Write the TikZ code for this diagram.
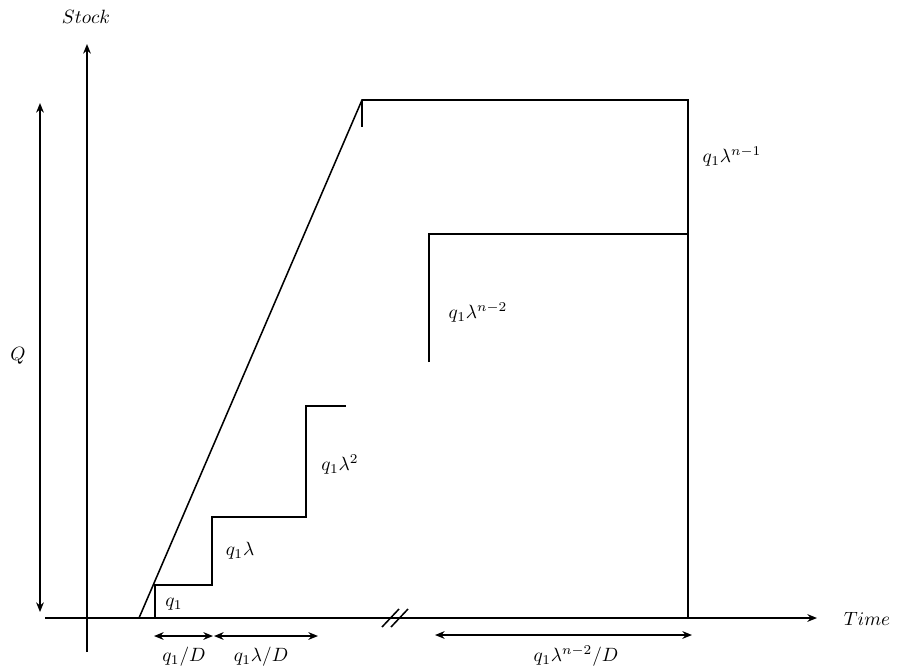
\documentclass[tikz,border=0pt]{standalone}
\usetikzlibrary{arrows.meta}

\begin{document}
\begin{tikzpicture}[
    x=0.52pt, y=-0.52pt,
    >={Stealth[length=5pt,width=4pt]},
    axis/.style={thick, ->},
    stock/.style={thick},
    dim/.style={thick, <->},
    lbl/.style={inner sep=1pt},
]
\useasboundingbox (0,0) rectangle (897,671);

% Axes
\coordinate (tstart) at (45,618);
\coordinate (tend) at (817,618);
\coordinate (sbot) at (87,652);
\coordinate (stop) at (87,44);
\draw[axis] (tstart) -- (tend);
\draw[axis] (sbot) -- (stop);
\node[lbl] (tlbl) at (867,619) {$Time$};
\node[lbl] (slbl) at (86,17) {$Stock$};

% Total batch Q
\coordinate (qbot) at (40,612);
\coordinate (qtop) at (40,103);
\draw[dim] (qbot) -- (qtop);
\node[lbl] (qlbl) at (18,356) {$Q$};

% Production ramp
\coordinate (r0) at (139,618);
\coordinate (r1) at (362,100);
\coordinate (r2) at (688,100);
\coordinate (r3) at (688,618);
\draw[stock] (r0) -- (r1) -- (r2) -- (r3);
\draw[stock] (r1) -- ++(0,27);

% Shipments
\coordinate (a0) at (155,618);
\coordinate (a1) at (155,585);
\coordinate (a2) at (212,585);
\coordinate (a3) at (212,517);
\coordinate (a4) at (306,517);
\coordinate (a5) at (306,406);
\coordinate (a6) at (346,406);
\draw[stock] (a0) -- (a1) -- (a2) -- (a3) -- (a4) -- (a5) -- (a6);

\coordinate (b0) at (429,362);
\coordinate (b1) at (429,234);
\coordinate (b2) at (688,234);
\draw[stock] (b0) -- (b1) -- (b2);

\node[lbl] (l1) at (174,604) {$q_1$};
\node[lbl] (l2) at (240,551) {$q_1\lambda$};
\node[lbl] (l3) at (340,465) {$q_1\lambda^2$};
\node[lbl] (l4) at (478,313) {$q_1\lambda^{n-2}$};
\node[lbl] (l5) at (732,157) {$q_1\lambda^{n-1}$};

% Axis break
\coordinate (k1) at (382,627);
\coordinate (k2) at (399,609);
\coordinate (k3) at (391,627);
\coordinate (k4) at (408,609);
\draw[thick] (k1) -- (k2);
\draw[thick] (k3) -- (k4);

% Time spans
\coordinate (d0) at (154,636);
\coordinate (d1) at (213,636);
\coordinate (d2) at (214,636);
\coordinate (d3) at (318,636);
\coordinate (d4) at (435,635);
\coordinate (d5) at (692,635);
\draw[dim] (d0) -- (d1);
\draw[dim] (d2) -- (d3);
\draw[dim] (d4) -- (d5);
\node[lbl] (t1) at (184,657) {$q_1/D$};
\node[lbl] (t2) at (261,657) {$q_1\lambda/D$};
\node[lbl] (t3) at (576,656) {$q_1\lambda^{n-2}/D$};

\end{tikzpicture}
\end{document}
